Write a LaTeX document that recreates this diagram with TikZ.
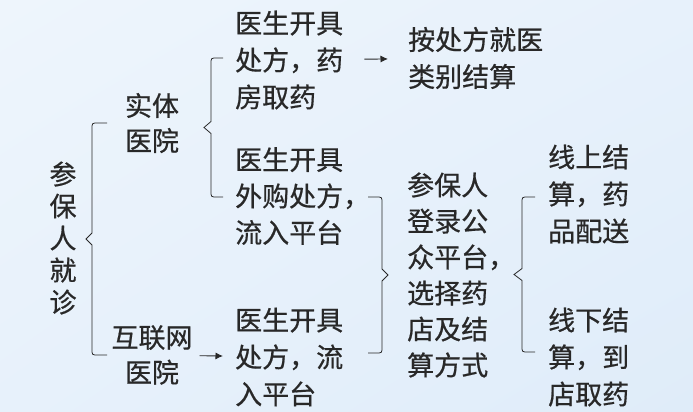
\documentclass[tikz,border=0pt]{standalone}
\usepackage{fontspec}
\usetikzlibrary{arrows.meta,shadings}
\newfontfamily\cjk[FakeBold=0.6]{Noto Sans CJK SC}
\definecolor{bgtl}{RGB}{238,245,252}
\definecolor{bgmid}{RGB}{231,241,251}
\definecolor{bgbr}{RGB}{223,236,249}
\definecolor{ink}{RGB}{40,40,40}
\tikzset{
  txt/.style={inner sep=0pt, text=ink, font=\cjk\fontsize{27}{37}\selectfont, align=left, anchor=west},
  ctr/.style={inner sep=0pt, text=ink, font=\cjk\fontsize{27}{35}\selectfont, align=center},
  brc/.style={draw=ink, line width=0.8pt},
  arr/.style={draw=ink, line width=0.9pt, -{Latex[length=7.5pt,width=7pt]}},
}
% curly brace: end x, line x, tip x, top y, bottom y
\newcommand{\brc}[5]{%
  \draw[brc] (#1,#4) -- ({#2+6*sign(#1-#2)},#4) .. controls (#2,#4) .. (#2,{#4+6})
    -- (#2,{(#4+#5)/2-6}) -- (#3,{(#4+#5)/2}) -- (#2,{(#4+#5)/2+6})
    -- (#2,{#5-6}) .. controls (#2,#5) .. ({#2+6*sign(#1-#2)},#5) -- (#1,#5);}
\begin{document}
\begin{tikzpicture}[x=1pt,y=-1pt]
\useasboundingbox (0,0) rectangle (693,412);
\shade[upper left=bgtl, upper right=bgmid, lower left=bgmid, lower right=bgbr] (0,0) rectangle (693,412);

\node[ctr, font=\cjk\fontsize{27}{32}\selectfont] (pat) at (63,238) {参\\保\\人\\就\\诊};
\node[ctr] (st) at (152,123) {实体\\医院};
\node[ctr] (hl) at (152,355) {互联网\\医院};

\node[txt] (a1) at (235,60) {医生开具\\处方，药\\房取药};
\node[txt, font=\cjk\fontsize{27}{36.5}\selectfont] (a2) at (235,196) {医生开具\\外购处方，\\流入平台};
\node[txt] (a3) at (235,357) {医生开具\\处方，流\\入平台};

\node[txt] (r1) at (408,58) {按处方就医\\类别结算};
\node[txt, font=\cjk\fontsize{27}{36}\selectfont] (mid) at (407,275) {参保人\\登录公\\众平台，\\选择药\\店及结\\算方式};

\node[txt] (on) at (548,194) {线上结\\算，药\\品配送};
\node[txt] (off) at (548,357) {线下结\\算，到\\店取药};

% arrows
\draw[arr, shorten <=21pt, shorten >=20pt] (a1) -- (r1);
\draw[arr, shorten <=7pt, shorten >=12pt] (hl) -- (a3);

% braces
\brc{107}{92}{86}{123}{355}
\brc{223}{211}{204}{58}{197}
\brc{368}{382}{388}{197}{353}
\brc{535}{522}{514}{197}{352}
\end{tikzpicture}
\end{document}
